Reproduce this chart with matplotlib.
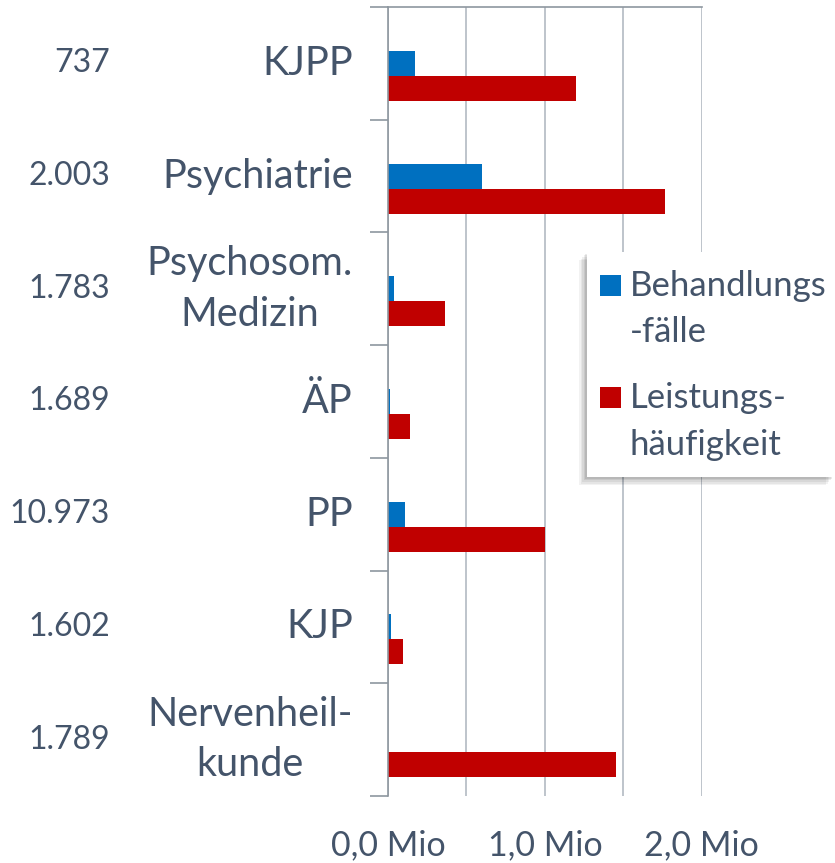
import matplotlib.pyplot as plt
import numpy as np
from matplotlib.patches import Rectangle
from matplotlib.transforms import blended_transform_factory

categories = ["KJPP", "Psychiatrie", "Psychosom.\nMedizin", "ÄP", "PP", "KJP",
              "Nervenheil-\nkunde"]
counts = ["737", "2.003", "1.783", "1.689", "10.973", "1.602", "1.789"]
faelle = [0.172, 0.60, 0.038, 0.015, 0.106, 0.021, 0.0]          # Mio
leistungen = [1.201, 1.769, 0.366, 0.140, 1.001, 0.096, 1.454]   # Mio
series_names = ["Behandlungs\n-fälle", "Leistungs-\nhäufigkeit"]
series_colors = ["#0070C0", "#C00000"]
tick_vals = [0, 1, 2]
tick_labels = ["0,0 Mio", "1,0 Mio", "2,0 Mio"]

text_col = "#44546A"
grid_col = "#B3BAC2"
axis_col = "#8E979F"

plt.rcParams["font.family"] = ["Lato", "DejaVu Sans"]

W, H = 835, 863
fig = plt.figure(figsize=(W / 100, H / 100), dpi=100)
ax = fig.add_axes([388 / W, 1 - 796 / H, (701.7 - 388) / W, (796 - 7) / H])

y = np.arange(len(categories))
h = 0.222
ax.barh(y, faelle, h, color=series_colors[0])
ax.barh(y + h, leistungen, h, color=series_colors[1])

ax.set_xlim(0, 2.0)
ax.set_ylim(len(categories) - 0.5, -0.5)

# gridlines every 0.5, labels every 1.0
ax.set_xticks(np.arange(0.5, 2.01, 0.5), minor=True)
ax.set_xticks(tick_vals)
ax.set_xticklabels(tick_labels, fontsize=24.5, color=text_col)
ax.grid(axis="x", which="both", color=grid_col, linewidth=1.2)
ax.set_axisbelow(True)
ax.tick_params(axis="x", which="both", length=0, pad=24)

ax.set_yticks(y)
ax.set_yticklabels([])
ax.set_yticks(np.arange(-0.5, len(categories), 1), minor=True)
ax.tick_params(axis="y", which="major", length=0)
ax.tick_params(axis="y", which="minor", length=13, color=axis_col, width=1.2)

tr = blended_transform_factory(fig.transFigure, ax.transData)
for i, (cat, c) in enumerate(zip(categories, counts)):
    ax.text(353 / W, i, cat, transform=tr, ha="right", va="center",
            multialignment="center", linespacing=1.45, fontsize=28.5,
            color=text_col)
    ax.text(110 / W, i, c, transform=tr, ha="right", va="center",
            fontsize=23, color=text_col)

for s in ["right", "bottom"]:
    ax.spines[s].set_visible(False)
for s in ["left", "top"]:
    ax.spines[s].set_color(axis_col)
    ax.spines[s].set_linewidth(1.2)

# legend box drawn by hand (handles aligned with first label line)
def fx(px):
    return px / W

def fy(py):
    return 1 - py / H

x0, x1, y0, y1 = 587, 834, 252, 477
for k, a in enumerate([0.05, 0.05, 0.06, 0.07, 0.08]):
    off = 8 - k * 1.5
    fig.patches.append(Rectangle((fx(x0 - off), fy(y1 + off)),
                                 fx(x1 - x0), (y1 - y0) / H,
                                 transform=fig.transFigure, color="black",
                                 alpha=a, lw=0, zorder=5))
fig.patches.append(Rectangle((fx(x0), fy(y1)), fx(x1 - x0), (y1 - y0) / H,
                             transform=fig.transFigure, color="white",
                             lw=0, zorder=6))
baselines = [(296, 342), (408, 455)]
for name, col, (b1, b2) in zip(series_names, series_colors, baselines):
    fig.patches.append(Rectangle((fx(600), fy(b1)), fx(21), 21 / H,
                                 transform=fig.transFigure, color=col,
                                 lw=0, zorder=7))
    for line, b in zip(name.split("\n"), (b1, b2)):
        fig.text(fx(630), fy(b), line, ha="left", va="baseline",
                 fontsize=25, color=text_col, zorder=8)

fig.savefig("out.png", dpi=100)
